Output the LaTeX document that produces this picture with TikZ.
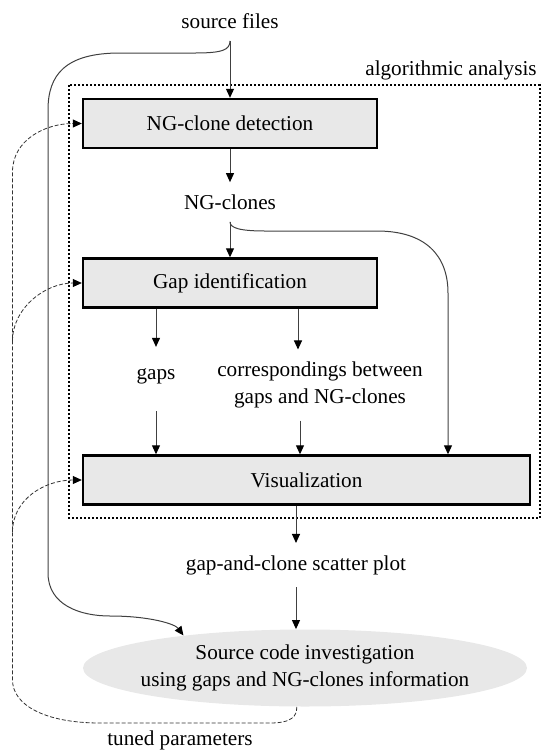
\documentclass[tikz,border=0pt]{standalone}
\usepackage{fontspec}
\setmainfont{Liberation Serif}
\usepackage{tikz}
\usetikzlibrary{positioning}
\usetikzlibrary{arrows.meta}
\usetikzlibrary{shapes.geometric}
\tikzset{stage/.style={draw=black, line width=1.2pt, fill=black!9, minimum height=24.5pt, inner sep=0pt, align=center},
flow/.style={draw=black!75, line width=0.5pt, -{Triangle[length=4.5pt, width=4pt, color=black]}},
tune/.style={draw=black!80, line width=0.4pt, dash pattern=on 2pt off 1pt, -{Triangle[length=4.5pt, width=4pt, color=black]}}}

\begin{document}
\begin{tikzpicture}[x=0.5pt, y=-0.5pt, font=\fontsize{10.6}{13.5}\selectfont,
	lbl/.style={inner sep=6pt, align=center},
	study/.style={ellipse, fill=black!9, minimum width=222pt, minimum height=38.5pt, inner xsep=-10pt, inner ysep=0pt, align=center},
	frame/.style={line width=1pt, dash pattern=on 1pt off 1pt}]

	\useasboundingbox (0,0) rectangle (541,751);

	\draw[frame] (69,85) rectangle (539.5,518);
	\node[lbl] (algo) at (451,70) {algorithmic analysis};

	\node[lbl] (src) at (230,21) {source files};
	\node[stage, minimum width=147pt] (det) at (230,123.5) {NG-clone detection};
	\node[lbl] (clones) at (230,202) {NG-clones};
	\node[stage, minimum width=147pt] (gap) at (230,283) {Gap identification};
	\node[lbl] (gaps) at (156,376) {gaps};
	\node[lbl] (corr) at (320,385) {correspondings between\\gaps and NG-clones};
	\node[stage, minimum width=223.5pt] (vis) at (306.5,480) {Visualization};
	\node[lbl] (scatter) at (296,565) {gap-and-clone scatter plot};
	\node[study] (inv) at (305,668) {Source code investigation\\using gaps and NG-clones information};
	\node[lbl] (tuned) at (180,740) {tuned parameters};

	\coordinate (clturn) at (448,293);
	\coordinate (tdet) at (12.5,172);
	\coordinate (tgap) at (12.5,341);
	\coordinate (tvis) at (12.5,532);

	\draw[flow] (src) -- (det);
	\draw[flow] (det) -- (clones);
	\draw[flow] (clones) -- (gap);
	\draw[flow] (gap.south -| gaps) -- ([yshift=4.5pt]gaps.north);
	\draw[flow] ([xshift=34pt]gap.south) -- ([xshift=-11pt]corr.north);
	\draw[flow] ([yshift=-7.5pt]gaps.south) -- (gaps.south |- vis.north);
	\draw[flow] ([xshift=-10pt]corr.south) -- ([xshift=-3.25pt]vis.north);
	\draw[flow] (vis.south -| scatter.north) -- (scatter.north);
	\draw[flow] (scatter) -- (scatter.south |- inv.north);

	\draw[flow] (clones.south) .. controls (230,228) and (240,231) .. (265,231) -- (377,231)
		.. controls (425,231) and (448,255) .. (clturn) -- (vis.north -| clturn);
	\draw[flow] (src.south) .. controls (230,50) and (222,53) .. (195,53) -- (120,53)
		.. controls (65,53) and (48,75) .. (48,110) -- (48,573)
		.. controls (48,605) and (80,616) .. (110,616) .. controls (150,616) and (175,624) .. (inv.165);

	\draw[tune] (inv.258) .. controls (297,716) and (292,723) .. (270,723) -- (100,723)
		.. controls (45,723) and (12.5,705) .. (12.5,680) -- (tdet)
		.. controls (12.5,140) and (45,123.5) .. (det.west);
	\draw[tune] (tgap) .. controls (12.5,308) and (45,283) .. (gap.west);
	\draw[tune] (tvis) .. controls (12.5,499) and (45,480) .. (vis.west);
\end{tikzpicture}
\end{document}
